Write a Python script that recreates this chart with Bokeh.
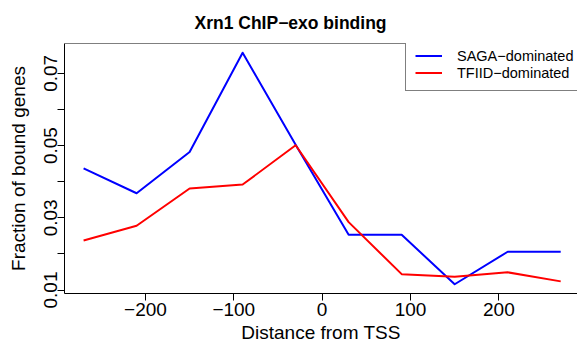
from bokeh.plotting import figure
from bokeh.models import Range1d, FixedTicker, Legend, LegendItem, Span
from bokeh.embed import file_html
from bokeh.resources import INLINE

# Distance from the TSS (bp) for each bin
positions = [-270, -210, -150, -90, -30, 30, 90, 150, 210, 270]

# Fraction of genes with Xrn1 ChIP-exo signal in each bin
saga = [0.0437, 0.0368, 0.0482, 0.0757, 0.0502, 0.0253, 0.0253, 0.0116, 0.0206, 0.0206]
tfiid = [0.0237, 0.0278, 0.0381, 0.0392, 0.0501, 0.0288, 0.0144, 0.0137, 0.0149, 0.0124]

series_names = ["SAGA\u2212dominated", "TFIID\u2212dominated"]
chart_title = "Xrn1 ChIP\u2212exo binding"

x_ticks = [-200, -100, 0, 100, 200]
x_tick_labels = ["\u2212200", "\u2212100", "0", "100", "200"]
y_ticks = [0.01, 0.02, 0.03, 0.04, 0.05, 0.06, 0.07]
y_tick_labels = ["0.01", "", "0.03", "", "0.05", "", "0.07"]

FONT = "Liberation Sans"

Y_START, Y_END = 0.00904, 0.07826

p = figure(
    width=577, height=345,
    output_backend="svg", toolbar_location=None,
    x_range=Range1d(-291.6, 289.0),
    y_range=Range1d(Y_START, Y_END),
    min_border_left=64, min_border_right=0,
    min_border_top=42, min_border_bottom=49,
    title=chart_title,
)
p.grid.visible = False
p.outline_line_color = None
p.background_fill_color = "white"
p.border_fill_color = "white"

# title
p.title.text_font = FONT
p.title.text_font_size = "17.5px"
p.title.text_font_style = "bold"
p.title.text_color = "black"
p.title.align = "left"
p.title.offset = 130
p.title.standoff = 21

def style_axis(ax):
    ax.axis_line_color = "black"
    ax.axis_line_width = 1
    ax.major_tick_line_color = "black"
    ax.major_tick_out = 7
    ax.major_tick_in = 0
    ax.minor_tick_line_color = None
    ax.major_label_text_font = FONT
    ax.major_label_text_font_size = "19px"
    ax.major_label_text_color = "black"
    ax.axis_label_text_font = FONT
    ax.axis_label_text_font_size = "19px"
    ax.axis_label_text_font_style = "normal"
    ax.axis_label_text_color = "black"

xa = p.xaxis[0]
style_axis(xa)
xa.ticker = FixedTicker(ticks=x_ticks)
xa.major_label_overrides = dict(zip(x_ticks, x_tick_labels))
xa.major_label_standoff = 2
xa.axis_label = "Distance from TSS"
xa.axis_label_standoff = 3

ya = p.yaxis[0]
style_axis(ya)
ya.ticker = FixedTicker(ticks=y_ticks)
ya.major_label_overrides = dict(zip(y_ticks, y_tick_labels))
ya.major_label_orientation = "vertical"
ya.major_label_standoff = 0
ya.axis_label = "Fraction of bound genes"
ya.axis_label_standoff = 13

# top edge of the plot box
p.add_layout(Span(location=Y_END, dimension="width", line_color="black", line_width=1))

r1 = p.line(positions, saga, line_color="#0000ff", line_width=2, line_join="round")
r2 = p.line(positions, tfiid, line_color="#ff0000", line_width=2, line_join="round")

legend = Legend(
    items=[LegendItem(label=series_names[0], renderers=[r1]),
           LegendItem(label=series_names[1], renderers=[r2])],
    location=(341, 202),
    padding=9, spacing=0, margin=0,
    glyph_width=27, glyph_height=17, label_height=17, label_standoff=15,
    label_text_font=FONT, label_text_font_size="14.5px", label_text_color="black",
    border_line_color="black", border_line_width=1,
    background_fill_color="white", background_fill_alpha=1.0,
)
p.add_layout(legend)

open("out.html", "w").write(file_html(p, INLINE))
